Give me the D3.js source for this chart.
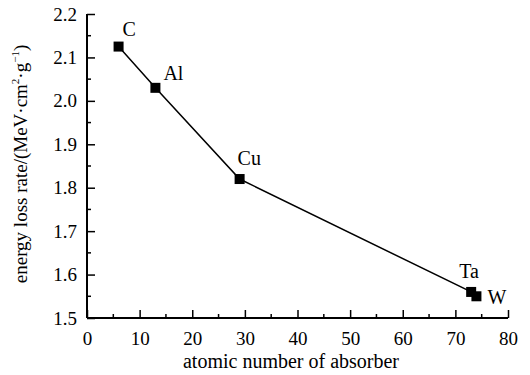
<!DOCTYPE html>
<html>
<head>
<meta charset="utf-8">
<script src="https://cdn.jsdelivr.net/npm/d3@7"></script>
<style>
  body { margin: 0; background: #fff; }
  text { font-family: "Liberation Serif", "Times New Roman", serif; fill: #000; }
</style>
</head>
<body>
<div id="chart"></div>
<script>
// data
let elements = ["C", "Al", "Cu", "Ta", "W"];
let atomicNumber = [6, 13, 29, 73, 74];
let lossRate = [2.125, 2.03, 1.82, 1.56, 1.55];
let xTicks = [0, 10, 20, 30, 40, 50, 60, 70, 80];
let yTicks = [1.5, 1.6, 1.7, 1.8, 1.9, 2.0, 2.1, 2.2];

let width = 530,
  height = 375;
let margin = { top: 14, right: 22, bottom: 57, left: 87 };

let svg = d3.select("#chart").append("svg")
  .attr("width", width)
  .attr("height", height);

let x = d3.scaleLinear().domain([0, 80]).range([margin.left, width - margin.right]);
let y = d3.scaleLinear().domain([1.5, 2.2]).range([height - margin.bottom, margin.top]);

// minor ticks halfway between the labelled ones
let xMinor = d3.range(5, 80, 10);
let yMinor = d3.range(1.55, 2.2, 0.1);

let xAxis = svg.append("g")
  .attr("transform", "translate(0," + y(1.5) + ")")
  .call(d3.axisBottom(x).tickValues(xTicks).tickSize(-8).tickPadding(14).tickFormat(d3.format("d")));
svg.append("g")
  .attr("transform", "translate(0," + y(1.5) + ")")
  .selectAll("line")
  .data(xMinor)
  .enter()
  .append("line")
  .attr("x1", d => x(d)).attr("x2", d => x(d))
  .attr("y1", 0).attr("y2", -4)
  .attr("stroke", "#000").attr("stroke-width", 1.5);

let yAxis = svg.append("g")
  .attr("transform", "translate(" + x(0) + ",0)")
  .call(d3.axisLeft(y).tickValues(yTicks).tickSize(-8).tickPadding(10).tickFormat(d3.format(".1f")));
svg.append("g")
  .attr("transform", "translate(" + x(0) + ",0)")
  .selectAll("line")
  .data(yMinor)
  .enter()
  .append("line")
  .attr("y1", d => y(d)).attr("y2", d => y(d))
  .attr("x1", 0).attr("x2", 4)
  .attr("stroke", "#000").attr("stroke-width", 1.5);

svg.selectAll(".domain").attr("stroke-width", 2);
svg.selectAll(".tick line").attr("stroke-width", 1.5);
svg.selectAll(".tick text").attr("font-size", "19px").attr("font-family", "Liberation Serif");
xAxis.select(".domain").attr("d", "M" + x(0) + ",0H" + x(80));
yAxis.select(".domain").attr("d", "M0," + y(1.5) + "V" + y(2.2));

let points = elements.map((e, i) => ({ name: e, z: atomicNumber[i], v: lossRate[i] }));

svg.append("path")
  .datum(points)
  .attr("fill", "none")
  .attr("stroke", "#000")
  .attr("stroke-width", 1.5)
  .attr("d", d3.line().x(d => x(d.z)).y(d => y(d.v)));

svg.append("g")
  .selectAll("rect")
  .data(points)
  .enter()
  .append("rect")
  .attr("x", d => x(d.z) - 5)
  .attr("y", d => y(d.v) - 5)
  .attr("width", 10)
  .attr("height", 10)
  .attr("fill", "#000");

// label offsets beside each marker
let labelDx = [4, 8, -2, -12, 11];
let labelDy = [-11, -8, -14, -14, 8];
svg.append("g")
  .selectAll("text")
  .data(points)
  .enter()
  .append("text")
  .attr("x", (d, i) => x(d.z) + labelDx[i])
  .attr("y", (d, i) => y(d.v) + labelDy[i])
  .attr("font-size", "20px")
  .text(d => d.name);

svg.append("text")
  .attr("x", 291)
  .attr("y", 368)
  .attr("text-anchor", "middle")
  .attr("font-size", "20px")
  .text("atomic number of absorber");

let yTitle = svg.append("text")
  .attr("transform", "translate(27,164) rotate(-90)")
  .attr("text-anchor", "middle")
  .attr("font-size", "19px");
yTitle.append("tspan").text("energy loss rate/(MeV·cm");
yTitle.append("tspan").attr("font-size", "11px").attr("dy", -8).text("2");
yTitle.append("tspan").attr("dy", 8).text("·g");
yTitle.append("tspan").attr("font-size", "11px").attr("dy", -8).text("−1");
yTitle.append("tspan").attr("dy", 8).text(")");
</script>
</body>
</html>
